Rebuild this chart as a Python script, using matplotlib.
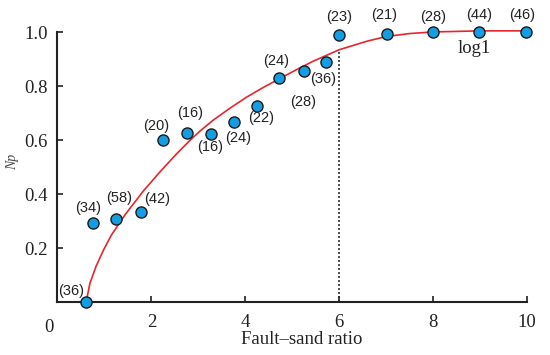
import matplotlib
matplotlib.use("Agg")
import matplotlib.pyplot as plt
import numpy as np

# Data points: fault-sand ratio vs Np, with sample counts
pt_x = [0.60, 0.76, 1.25, 1.77, 2.25, 2.75, 3.26, 3.76, 4.24, 4.72, 5.25, 5.73, 5.99, 7.02, 8.00, 8.99, 9.98]
pt_y = [0.0, 0.296, 0.309, 0.335, 0.602, 0.627, 0.624, 0.667, 0.728, 0.833, 0.857, 0.890, 0.992, 0.994, 1.0, 1.0, 1.003]
counts = ["(36)", "(34)", "(58)", "(42)", "(20)", "(16)", "(16)", "(24)", "(22)", "(24)", "(28)", "(36)", "(23)", "(21)", "(28)", "(44)", "(46)"]
lab_x = [0.29, 0.655, 1.315, 2.12, 2.11, 2.82, 3.245, 3.85, 4.34, 4.66, 5.23, 5.655, 6.0, 6.95, 8.0, 8.99, 9.9]
lab_y = [0.044, 0.349, 0.386, 0.382, 0.654, 0.70, 0.577, 0.61, 0.682, 0.894, 0.744, 0.827, 1.056, 1.065, 1.056, 1.065, 1.065]

# Fitted trend curve
curve_x = [0.61, 0.69, 0.82, 0.98, 1.15, 1.44, 1.83, 2.18, 2.54, 2.82, 3.03, 3.315, 3.67, 4.025, 4.38, 4.73, 5.09, 5.44, 6.0, 6.58, 7.0, 7.5, 8.0, 9.0, 10.0]
curve_y = [0.0, 0.07, 0.133, 0.194, 0.250, 0.325, 0.413, 0.483, 0.551, 0.600, 0.634, 0.675, 0.719, 0.760, 0.796, 0.829, 0.862, 0.893, 0.936, 0.967, 0.985, 0.996, 1.002, 1.006, 1.006]

cutoff_x = 6.0
cutoff_y = 0.936

xticks = [2, 4, 6, 8, 10]
yticks = [0.2, 0.4, 0.6, 0.8, 1.0]

serif = "Liberation Serif"
sans = "Liberation Sans"

fig = plt.figure(figsize=(5.5, 3.55), dpi=100)
ax = fig.add_axes([0.1045, 0.148, 0.8535, 0.7605])

ax.plot(curve_x, curve_y, color="#E8252B", lw=1.2, zorder=2, clip_on=False, solid_joinstyle="round")
ax.plot([cutoff_x, cutoff_x], [0, cutoff_y], color="#333333", lw=1.2, ls=(0, (1.2, 1.2)), zorder=1)
ax.scatter(pt_x, pt_y, s=64, color="#139DE2", edgecolor="#1a1a1a", linewidth=1.0, zorder=3, clip_on=False)

for tx, ty, t in zip(lab_x, lab_y, counts):
    ax.text(tx, ty, t, ha="center", va="center", fontsize=10.5, family=sans, color="#222222")

ax.text(8.88, 0.941, "log1", ha="center", va="center", fontsize=13.5, family=serif, color="#222222")

ax.set_xlim(0, 10)
ax.set_ylim(0, 1.0)
ax.set_xticks(xticks)
ax.set_yticks(yticks)
ax.set_xticklabels([str(v) for v in xticks], family=serif, fontsize=13.5)
ax.set_yticklabels([f"{v:.1f}" for v in yticks], family=serif, fontsize=13.5)
ax.tick_params(direction="in", length=4, width=1.2, color="#222222", labelcolor="#222222")
ax.tick_params(axis="x", pad=8)
ax.tick_params(axis="y", pad=7)
ax.text(-0.18, -0.06, "0", ha="center", va="top", fontsize=13.5, family=serif, color="#222222", transform=ax.transData, clip_on=False)

for s in ["top", "right"]:
    ax.spines[s].set_visible(False)
for s in ["left", "bottom"]:
    ax.spines[s].set_linewidth(1.5)
    ax.spines[s].set_color("#222222")

fig.text(302 / 550, 1 - 340 / 355, "Fault\u2013sand ratio", ha="center", va="center", fontsize=13.5, family=serif, color="#222222")
fig.text(13 / 550, 1 - 162 / 355, "Np", ha="center", va="center", rotation=90, fontsize=10, family=serif, style="italic", color="#444444")

fig.savefig("out.png", dpi=100, facecolor="white")
